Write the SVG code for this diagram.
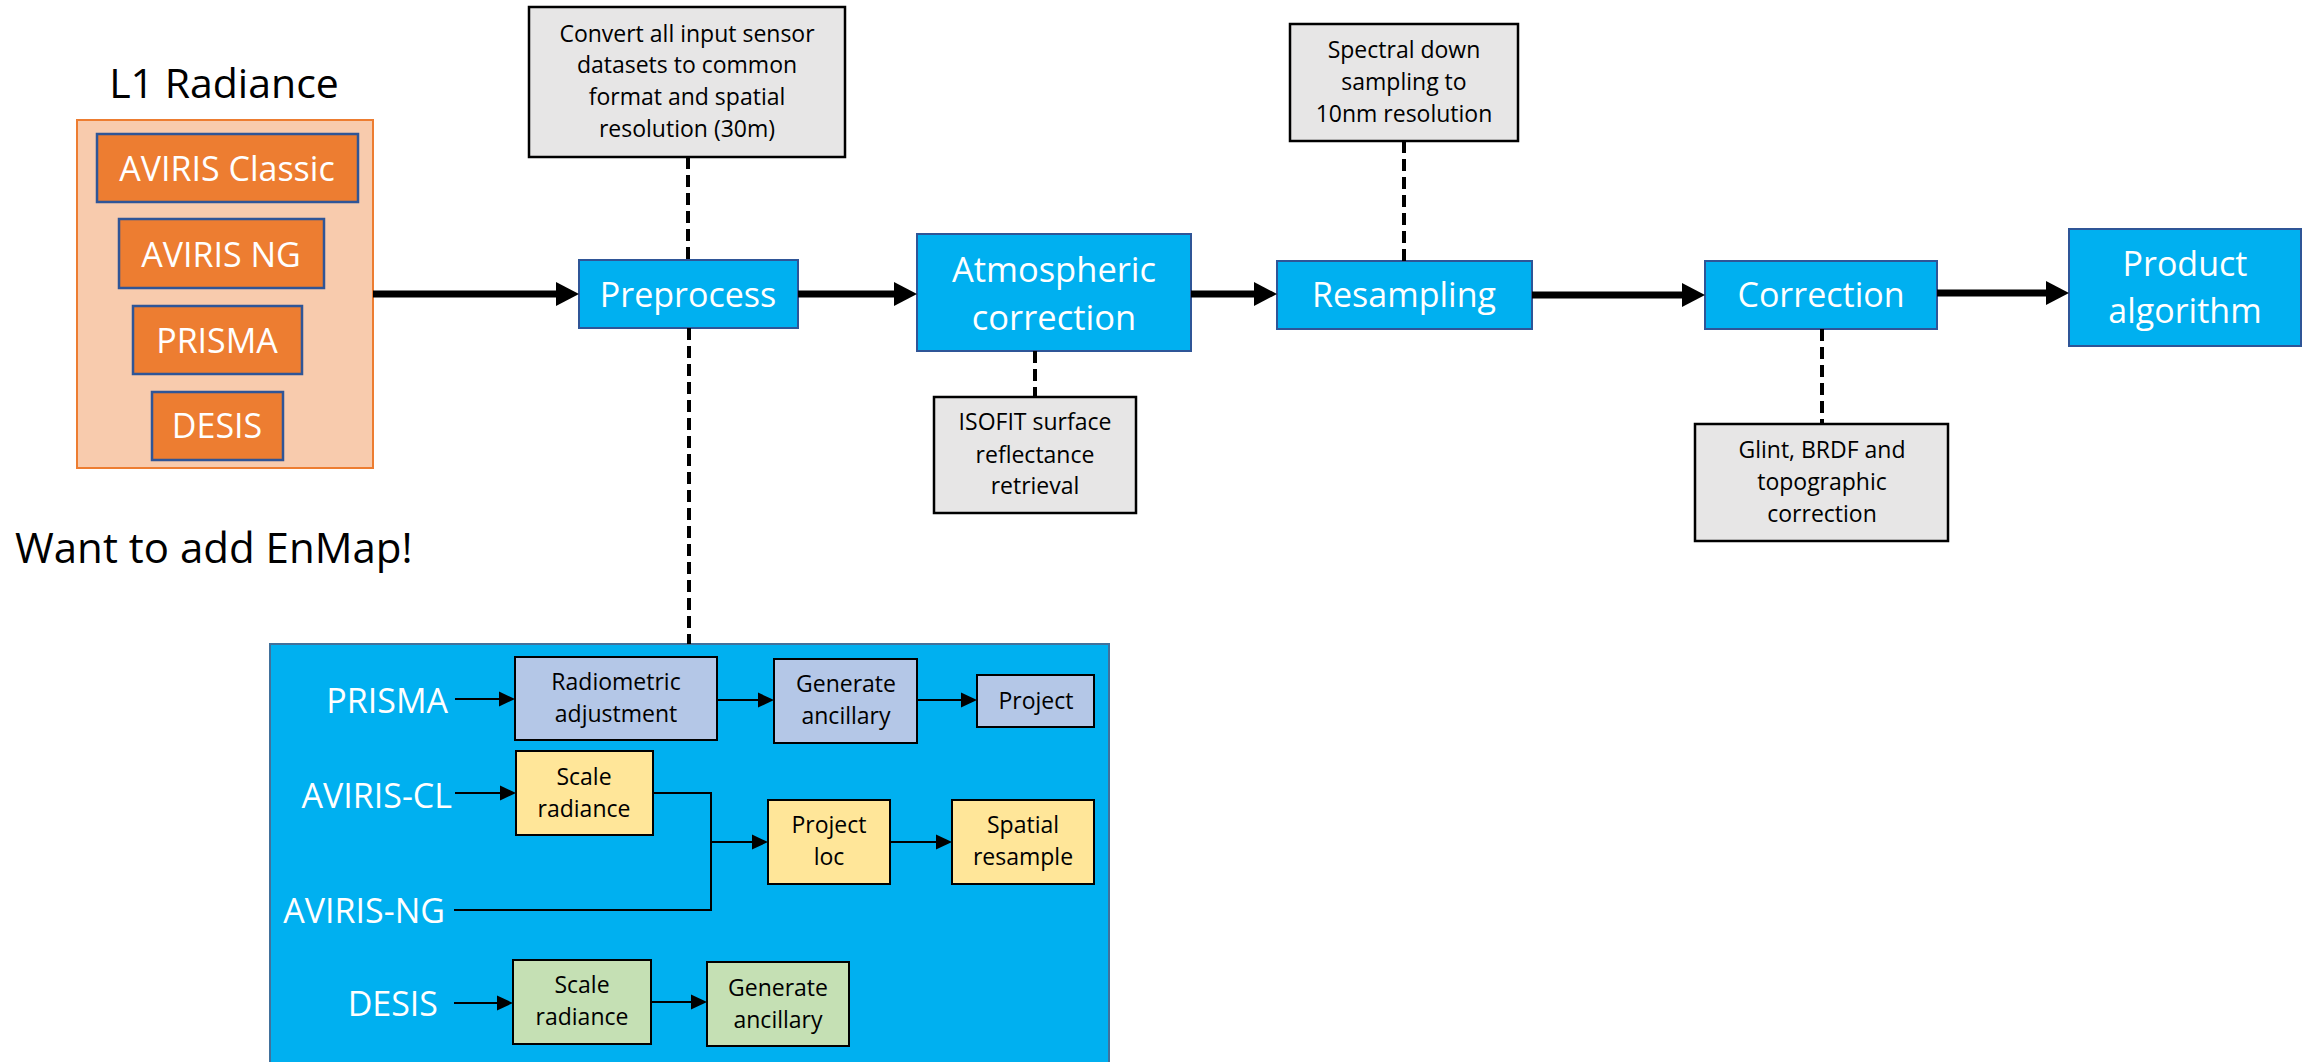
<svg xmlns="http://www.w3.org/2000/svg" width="2308" height="1062" viewBox="0 0 2308 1062">
<style>
text{font-family:"Open Sans","Noto Sans","Liberation Sans",sans-serif;}
.w{fill:#fff;}
.k{fill:#000;}
.c{text-anchor:middle;}
.e{text-anchor:end;}
.blue{fill:#00B0F0;stroke:#2F5597;stroke-width:2;}
.gray{fill:#E7E6E6;stroke:#000;stroke-width:2.5;}
.org{fill:#ED7D31;stroke:#2F5597;stroke-width:2.5;}
.pb{fill:#B4C7E7;stroke:#000;stroke-width:2;}
.py{fill:#FFE699;stroke:#000;stroke-width:2;}
.pg{fill:#C5E0B4;stroke:#000;stroke-width:2;}
.thick{stroke:#000;stroke-width:7;fill:none;}
.thin{stroke:#000;stroke-width:2;fill:none;}
.dash{stroke:#000;stroke-width:4;stroke-dasharray:12 6;fill:none;}
</style>
<defs>
<marker id="big" markerUnits="userSpaceOnUse" markerWidth="24" markerHeight="24" refX="0" refY="12" orient="auto" overflow="visible">
<path d="M0,0 L23,12 L0,24 z" fill="#000"/>
</marker>
<marker id="small" markerUnits="userSpaceOnUse" markerWidth="16" markerHeight="16" refX="0" refY="8" orient="auto" overflow="visible">
<path d="M0,0.5 L16,8 L0,15.5 z" fill="#000"/>
</marker>
</defs>

<g id="l1-title"><text x="224" y="98" class="k c" font-size="41">L1 Radiance</text></g>
<g id="l1-radiance">
<rect x="77" y="120" width="296" height="348" fill="#F8CBAD" stroke="#ED7D31" stroke-width="2"/>
<g id="aviris-classic"><rect x="97" y="134" width="261" height="68" class="org"/><text x="227" y="181" class="w c" font-size="34">AVIRIS Classic</text></g>
<g id="aviris-ng"><rect x="119" y="219" width="205" height="69" class="org"/><text x="221" y="267" class="w c" font-size="34">AVIRIS NG</text></g>
<g id="prisma"><rect x="133" y="306" width="169" height="68" class="org"/><text x="217" y="353" class="w c" font-size="34">PRISMA</text></g>
<g id="desis"><rect x="152" y="392" width="131" height="68" class="org"/><text x="217" y="438" class="w c" font-size="34">DESIS</text></g>
</g>
<g id="enmap-note"><text x="15" y="563" class="k" font-size="42">Want to add EnMap!</text></g>

<g id="convert-note"><rect x="529" y="7" width="316" height="150" class="gray"/>
<text class="k c" font-size="23"><tspan x="687" y="42">Convert all input sensor</tspan><tspan x="687" y="73">datasets to common</tspan><tspan x="687" y="105">format and spatial</tspan><tspan x="687" y="137">resolution (30m)</tspan></text></g>

<g id="preprocess"><rect x="579" y="260" width="219" height="68" class="blue"/><text x="688" y="307" class="w c" font-size="34">Preprocess</text></g>
<g id="atmospheric"><rect x="917" y="234" width="274" height="117" class="blue"/><text class="w c" font-size="34.5"><tspan x="1054" y="282">Atmospheric</tspan><tspan x="1054" y="330">correction</tspan></text></g>
<g id="isofit-note"><rect x="934" y="397" width="202" height="116" class="gray"/>
<text class="k c" font-size="23"><tspan x="1035" y="430">ISOFIT surface</tspan><tspan x="1035" y="463">reflectance</tspan><tspan x="1035" y="494">retrieval</tspan></text></g>
<g id="spectral-note"><rect x="1290" y="24" width="228" height="117" class="gray"/>
<text class="k c" font-size="23"><tspan x="1404" y="58">Spectral down</tspan><tspan x="1404" y="90">sampling to</tspan><tspan x="1404" y="122">10nm resolution</tspan></text></g>
<g id="resampling"><rect x="1277" y="261" width="255" height="68" class="blue"/><text x="1404" y="307" class="w c" font-size="34">Resampling</text></g>
<g id="correction"><rect x="1705" y="261" width="232" height="68" class="blue"/><text x="1821" y="307" class="w c" font-size="34">Correction</text></g>
<g id="glint-note"><rect x="1695" y="424" width="253" height="117" class="gray"/>
<text class="k c" font-size="23"><tspan x="1822" y="458">Glint, BRDF and</tspan><tspan x="1822" y="490">topographic</tspan><tspan x="1822" y="522">correction</tspan></text></g>
<g id="product"><rect x="2069" y="229" width="232" height="117" class="blue"/><text class="w c" font-size="34"><tspan x="2185" y="276">Product</tspan><tspan x="2185" y="323">algorithm</tspan></text></g>

<g id="preprocess-detail">
<rect x="270" y="644" width="839" height="430" fill="#00B0F0" stroke="#41719C" stroke-width="2"/>
<text x="448" y="713" class="w e" font-size="34">PRISMA</text>
<text x="452" y="808" class="w e" font-size="34">AVIRIS-CL</text>
<text x="445" y="923" class="w e" font-size="34">AVIRIS-NG</text>
<text x="438" y="1016" class="w e" font-size="34">DESIS</text>
</g>
<g id="radiometric"><rect x="515" y="657" width="202" height="83" class="pb"/><text class="k c" font-size="23"><tspan x="616" y="690">Radiometric</tspan><tspan x="616" y="722">adjustment</tspan></text></g>
<g id="gen-anc-prisma"><rect x="774" y="659" width="143" height="84" class="pb"/><text class="k c" font-size="23"><tspan x="846" y="692">Generate</tspan><tspan x="846" y="724">ancillary</tspan></text></g>
<g id="project-prisma"><rect x="977" y="675" width="117" height="52" class="pb"/><text x="1036" y="709" class="k c" font-size="23">Project</text></g>
<g id="scale-aviris"><rect x="516" y="751" width="137" height="84" class="py"/><text class="k c" font-size="23"><tspan x="584" y="785">Scale</tspan><tspan x="584" y="817">radiance</tspan></text></g>
<g id="project-loc"><rect x="768" y="800" width="122" height="84" class="py"/><text class="k c" font-size="23"><tspan x="829" y="833">Project</tspan><tspan x="829" y="865">loc</tspan></text></g>
<g id="spatial-resample"><rect x="952" y="800" width="142" height="84" class="py"/><text class="k c" font-size="23"><tspan x="1023" y="833">Spatial</tspan><tspan x="1023" y="865">resample</tspan></text></g>
<g id="scale-desis"><rect x="513" y="960" width="138" height="84" class="pg"/><text class="k c" font-size="23"><tspan x="582" y="993">Scale</tspan><tspan x="582" y="1025">radiance</tspan></text></g>
<g id="gen-anc-desis"><rect x="707" y="962" width="142" height="84" class="pg"/><text class="k c" font-size="23"><tspan x="778" y="996">Generate</tspan><tspan x="778" y="1028">ancillary</tspan></text></g>

<g id="connectors">
<line x1="373" y1="294" x2="556" y2="294" class="thick" marker-end="url(#big)"/>
<line x1="798" y1="294" x2="894" y2="294" class="thick" marker-end="url(#big)"/>
<line x1="1191" y1="294" x2="1254" y2="294" class="thick" marker-end="url(#big)"/>
<line x1="1532" y1="295" x2="1682" y2="295" class="thick" marker-end="url(#big)"/>
<line x1="1937" y1="293" x2="2046" y2="293" class="thick" marker-end="url(#big)"/>
<line x1="688" y1="157" x2="688" y2="260" class="dash"/>
<line x1="689" y1="328" x2="689" y2="644" class="dash"/>
<line x1="1035" y1="351" x2="1035" y2="397" class="dash"/>
<line x1="1404" y1="141" x2="1404" y2="261" class="dash"/>
<line x1="1822" y1="329" x2="1822" y2="424" class="dash"/>
<line x1="455" y1="699" x2="499" y2="699" class="thin" marker-end="url(#small)"/>
<line x1="717" y1="700" x2="758" y2="700" class="thin" marker-end="url(#small)"/>
<line x1="917" y1="700" x2="961" y2="700" class="thin" marker-end="url(#small)"/>
<line x1="455" y1="793" x2="500" y2="793" class="thin" marker-end="url(#small)"/>
<polyline points="653,793 711,793 711,842 752,842" class="thin" marker-end="url(#small)"/>
<polyline points="454,910 711,910 711,842" class="thin"/>
<line x1="890" y1="842" x2="936" y2="842" class="thin" marker-end="url(#small)"/>
<line x1="454" y1="1003" x2="497" y2="1003" class="thin" marker-end="url(#small)"/>
<line x1="651" y1="1002" x2="691" y2="1002" class="thin" marker-end="url(#small)"/>
</g>
</svg>
